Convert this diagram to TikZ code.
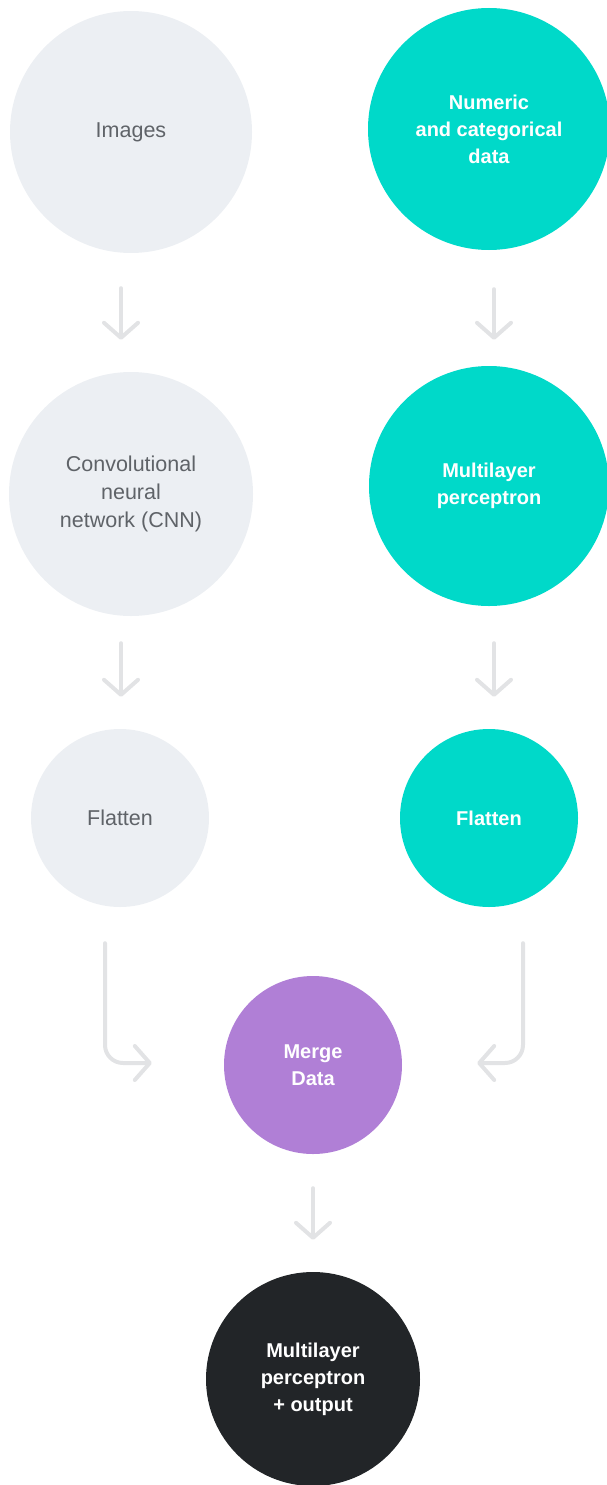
\documentclass[tikz,border=0pt]{standalone}
\usepackage{fontspec}
\setmainfont{Liberation Sans}
\usetikzlibrary{arrows.meta,calc}

\definecolor{paleGray}{HTML}{ECEFF3}
\definecolor{brightTeal}{HTML}{00D9C9}
\definecolor{mergePurple}{HTML}{B07FD6}
\definecolor{darkInk}{HTML}{222528}
\definecolor{arrowGray}{HTML}{E2E3E5}
\definecolor{labelGray}{HTML}{5F6368}

\tikzset{
  bubble/.style={circle, inner sep=0pt, align=center},
  paleBubble/.style={bubble, fill=paleGray, text=labelGray,
    font=\fontsize{21.5}{28}\selectfont},
  boldBubble/.style={bubble, text=white, font=\fontsize{20}{27}\selectfont\bfseries},
  tealBubble/.style={boldBubble, fill=brightTeal},
  purpleBubble/.style={boldBubble, fill=mergePurple},
  darkBubble/.style={boldBubble, fill=darkInk},
  flow/.style={draw=arrowGray, line width=4pt, line cap=round, rounded corners=18pt,
    -{Straight Barb[length=15pt,width=34pt,line cap=round,round]}}
}

\begin{document}
\begin{tikzpicture}[x=1pt,y=-1pt]
  \useasboundingbox (0,0) rectangle (606,1485);

  % left branch: image data
  \node[paleBubble, minimum size=242pt] (img)   at (131,132) {Images};
  \node[paleBubble, minimum size=244pt] (cnn)   at (131,494) {Convolutional\\neural\\network (CNN)};
  \node[paleBubble, minimum size=178pt] (flatL) at (120,818) {Flatten};

  % right branch: tabular data
  \node[tealBubble, minimum size=242pt] (num)   at (489,129) {Numeric\\and categorical\\data};
  \node[tealBubble, minimum size=240pt] (mlp)   at (489,486) {Multilayer\\perceptron};
  \node[tealBubble, minimum size=178pt] (flatR) at (489,818) {Flatten};

  % merged head
  \node[purpleBubble, minimum size=178pt] (merge) at (313,1065) {Merge\\Data};
  \node[darkBubble, minimum size=214pt]   (out)   at (313,1379) {Multilayer\\perceptron\\+ output};

  % connectors
  \draw[flow] ($(img.south)+(-10,35)$) -- ($(cnn.north)+(-10,-32)$);
  \draw[flow] ($(num.south)+(5,39)$) -- ($(mlp.north)+(5,-26)$);
  \draw[flow] ($(cnn.south)+(-10,27)$) -- ($(flatL.north)+(1,-32)$);
  \draw[flow] ($(mlp.south)+(5,37)$) -- ($(flatR.north)+(5,-32)$);
  \draw[flow] ($(flatL.south)+(-15,36)$) |- ($(merge.west)+(-72,-2)$);
  \draw[flow] ($(flatR.south)+(34,36)$) |- ($(merge.east)+(75,-2)$);
  \draw[flow] ($(merge.south)+(0,34)$) -- ($(out.north)+(0,-32)$);
\end{tikzpicture}
\end{document}
